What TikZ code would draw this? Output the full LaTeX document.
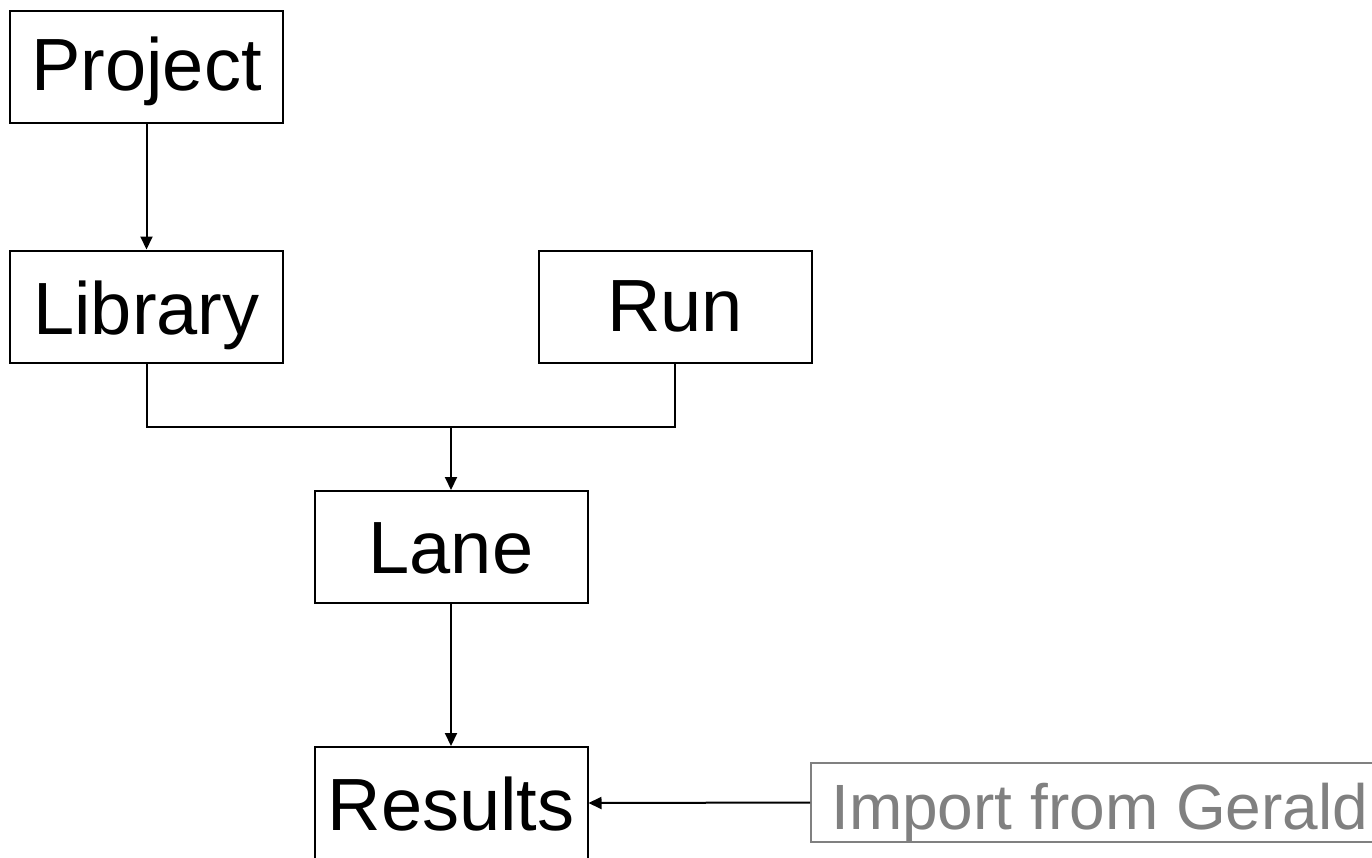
\documentclass[tikz,border=0pt]{standalone}
\usepackage{fontspec}
\setmainfont{Liberation Sans}
\usetikzlibrary{arrows.meta}
\definecolor{impgray}{HTML}{808080}
\tikzset{
  box/.style={draw=black, line width=2pt, minimum width=273pt, minimum height=112pt, inner sep=0pt, text height=53pt, text depth=0pt, font=\fontsize{74}{84}\selectfont},
  impbox/.style={draw=impgray, line width=2pt, minimum height=79pt, minimum width=600pt, inner sep=0pt},
  imptext/.style={text=impgray, font=\fontsize{64}{72}\selectfont, inner sep=0pt},
  conn/.style={line width=2pt, draw=black},
  arr/.style={conn, -{Triangle[length=13pt,width=12pt]}}
}
\begin{document}
\begin{tikzpicture}[x=1pt,y=-1pt]
\useasboundingbox (0,0) rectangle (1372,857);
\clip (0,0) rectangle (1372,857);
\node[box, text height=50pt, text depth=3pt] (project) at (146.5,66.5) {Project};
\node[box, text height=55pt, text depth=-2pt] (library) at (146.5,306.5) {Library};
\node[box, text height=51pt, text depth=2pt] (run) at (675,306.5) {Run};
\node[box] (lane) at (451,547) {Lane};
\node[box, text height=55pt, text depth=-2pt] (results) at (451,803) {Results};
\node[impbox, anchor=west] (import) at (810,802.5) {};
\node[imptext, anchor=base west] (importtxt) at (831,829) {Import from Gerald};
\coordinate (join) at (451,427);
\draw[arr] (project.south) -- (library.north);
\draw[conn] (library.south) |- (join) -| (run.south);
\draw[arr] (join) -- (lane.north);
\draw[arr] (lane.south) -- (results.north);
\draw[arr] (import.west) -- (results.east);
\end{tikzpicture}
\end{document}
